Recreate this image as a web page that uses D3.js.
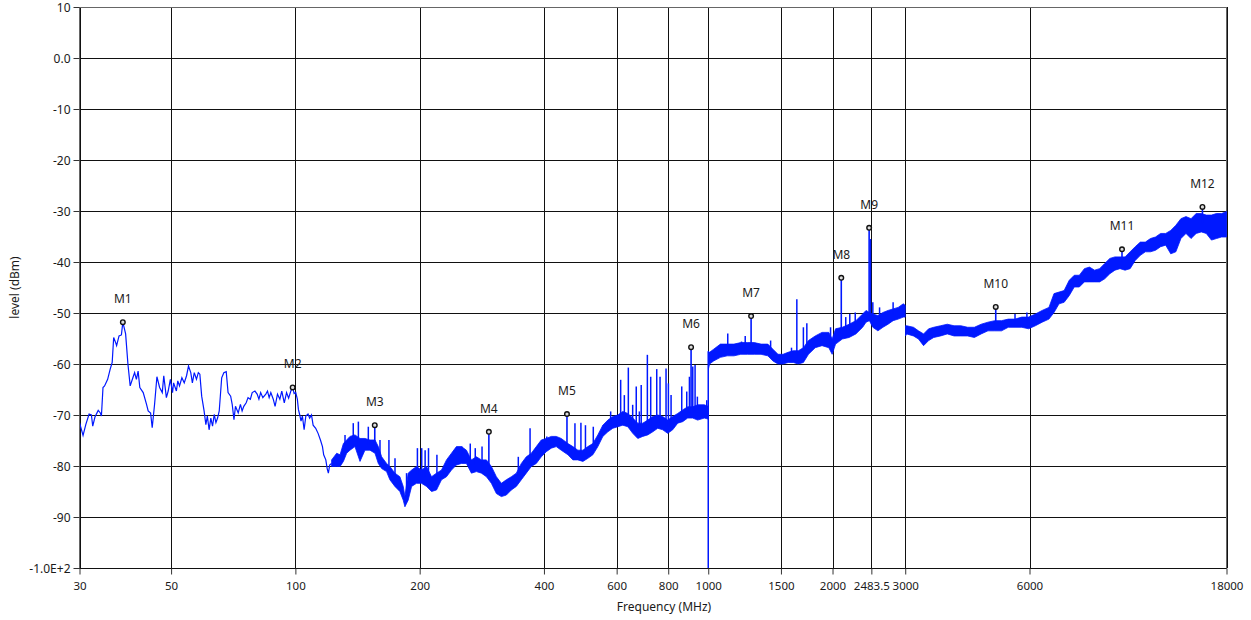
<!DOCTYPE html>
<html><head><meta charset="utf-8">
<script src="https://cdn.jsdelivr.net/npm/d3@7/dist/d3.min.js"></script>
<style>
body{margin:0;background:#fff;}
svg text{font-family:"Noto Sans","Open Sans",sans-serif;fill:#1a1a1a;}
</style>
</head><body>
<svg id="chart" width="1251" height="620"></svg>
<script>
// ---------------- data ----------------
const xTickValues = [30, 50, 100, 200, 400, 600, 800, 1000, 1500, 2000, 2483.5, 3000, 6000, 18000];
const xTickLabels = ["30", "50", "100", "200", "400", "600", "800", "1000", "1500", "2000", "2483.5", "3000", "6000", "18000"];
const yTickValues = [10, 0, -10, -20, -30, -40, -50, -60, -70, -80, -90, -100];
const yTickLabels = ["10", "0.0", "-10", "-20", "-30", "-40", "-50", "-60", "-70", "-80", "-90", "-1.0E+2"];

// thin trace 30 - 122 MHz : [MHz, dBm]
const lowTrace = [
[30.0,-71.5],[30.6,-74.0],[31.07,-71.9],[31.65,-69.8],[32.06,-70.0],[32.3,-72.2],[32.7,-70.4],[33.3,-69.1],[33.7,-69.6],[33.9,-70.2],
[34.2,-64.6],[34.5,-64.3],[35.1,-63.0],[35.6,-61.0],[36.0,-59.7],[36.3,-54.8],[36.7,-55.8],[36.9,-56.4],[37.4,-54.5],[37.9,-54.3],
[38.2,-51.8],[38.8,-54.1],[39.3,-60.0],[39.8,-64.3],[40.4,-62.7],[40.8,-61.7],[41.2,-63.0],[41.6,-61.4],[42.0,-64.6],[42.8,-65.6],
[43.6,-67.9],[44.0,-69.2],[44.6,-69.6],[45.0,-72.5],[45.6,-67.9],[46.2,-62.5],[46.9,-64.6],[47.6,-65.6],[48.0,-62.3],[48.7,-66.6],
[49.2,-65.3],[49.8,-63.0],[50.4,-65.6],[50.7,-63.7],[51.5,-65.3],[51.9,-63.3],[52.4,-64.3],[53.1,-62.7],[53.8,-63.7],[54.5,-62.3],
[55.1,-60.4],[55.8,-61.7],[56.3,-63.7],[56.9,-61.7],[57.6,-63.0],[58.2,-61.7],[58.7,-62.0],[59.3,-66.3],[60.1,-69.2],[60.7,-71.9],
[61.2,-70.2],[61.8,-72.9],[62.4,-70.6],[63.0,-72.2],[63.6,-69.9],[64.2,-71.5],[64.8,-70.6],[65.4,-69.2],[66.3,-62.7],[67.1,-61.7],
[68.0,-61.5],[68.7,-65.6],[69.7,-66.3],[70.3,-67.9],[71.0,-70.9],[71.6,-68.3],[72.7,-69.6],[73.6,-67.9],[74.3,-69.2],[75.0,-68.3],
[76.0,-67.6],[76.8,-66.6],[77.8,-66.9],[78.6,-65.6],[79.8,-65.3],[80.8,-65.9],[81.6,-66.9],[82.4,-65.6],[83.4,-66.6],[84.8,-65.9],
[85.6,-65.3],[86.4,-66.6],[87.2,-65.6],[88.4,-66.9],[89.3,-68.3],[90.5,-65.9],[91.7,-66.9],[92.7,-65.3],[94.0,-67.6],[95.2,-65.6],
[96.3,-66.7],[97.5,-65.3],[98.5,-64.6],[99.3,-65.8],[100.2,-65.6],[101.1,-66.9],[101.7,-68.9],[102.4,-69.9],[103.2,-71.2],[104.0,-70.2],
[105.0,-72.9],[106.0,-70.2],[107.3,-69.8],[108.3,-70.6],[109.4,-70.0],[110.4,-72.0],[112.0,-72.6],[113.5,-73.6],[115.0,-74.9],[116.3,-76.2],
[117.1,-77.8],[118.5,-78.8],[119.4,-80.5],[120.2,-81.4],[121.1,-79.8],[122.3,-79.5]
];

// dense trace envelopes : [MHz, upper dBm, lower dBm]
const bandA = [
[122.4,-78.8,-80.1],[125.9,-77.5,-80.1],[128.3,-77.8,-80.1],[130.7,-75.6,-79.1],[133.1,-74.9,-77.5],[135.6,-74.2,-76.9],[139.4,-73.9,-76.2],
[143.4,-74.6,-79.1],[147.4,-74.6,-76.9],[151.6,-74.9,-76.9],[155.9,-74.9,-77.5],[158.8,-76.2,-79.5],[161.8,-78.2,-80.5],[166.3,-79.5,-81.1],
[169.4,-80.1,-82.7],[174.2,-81.4,-84.0],[179.1,-82.1,-85.0],[182.5,-84.0,-86.7],[184.2,-86.0,-88.0],[187.6,-81.4,-86.7],[191.2,-80.8,-84.0],
[196.5,-80.1,-83.4],[202.1,-80.8,-83.4],[207.8,-80.1,-84.0],[213.7,-82.1,-85.0],[219.7,-81.4,-84.7],[225.9,-80.8,-82.7],[232.3,-78.8,-82.1],
[238.8,-77.5,-80.8],[245.5,-76.2,-79.8],[252.5,-76.2,-79.5],[259.6,-76.9,-79.5],[266.9,-78.8,-81.4],[274.5,-78.2,-81.1],[282.2,-78.8,-81.4],
[290.2,-78.8,-82.1],[298.4,-80.1,-83.4],[306.8,-82.1,-85.4],[315.4,-83.4,-86.0],[324.3,-82.7,-85.7],[333.5,-82.1,-84.7],[342.9,-81.4,-84.0],
[352.6,-79.5,-82.7],[362.5,-78.2,-81.4],[372.8,-77.5,-80.1],[383.3,-76.2,-79.5],[394.1,-74.9,-78.2],[405.2,-74.6,-77.2],[416.7,-74.2,-76.5],
[428.4,-74.2,-76.2],[440.5,-74.6,-76.9],[457.2,-75.6,-77.8],[470.1,-76.2,-78.8],[483.3,-76.9,-78.8],[497.0,-76.9,-79.1],[511.0,-76.2,-78.5],
[525.4,-75.6,-77.8],[540.3,-73.9,-76.2],[555.5,-72.0,-74.2],[571.2,-71.0,-73.3],[587.3,-70.3,-72.6],[603.9,-70.0,-72.3],[620.9,-69.3,-72.0],
[638.5,-69.7,-72.3],[656.5,-70.6,-73.6],[675.0,-71.6,-74.6],[694.0,-71.6,-74.2],[713.6,-71.0,-73.9],[733.8,-70.3,-73.3],[754.5,-70.0,-72.6],
[775.8,-70.3,-72.9],[797.7,-71.0,-73.6],[820.2,-70.3,-72.9],[843.4,-69.7,-71.6],[867.2,-69.0,-71.3],[891.6,-68.4,-70.6],[916.8,-68.4,-70.6],
[942.7,-68.0,-71.0],[978.6,-68.0,-70.6],[999.0,-68.3,-70.8]
];
const bandB = [
[1001,-57.5,-61.0],[1007.6,-57.7,-60.0],[1030.7,-57.1,-59.4],[1070.3,-56.1,-58.7],[1111.7,-56.1,-58.4],[1154.4,-56.1,-58.4],[1198.8,-55.8,-58.1],
[1245,-55.8,-58.1],[1292.8,-55.8,-58.1],[1342.5,-56.1,-58.1],[1394.2,-56.1,-58.4],[1434.3,-57.1,-59.4],[1475.5,-58.1,-60.0],[1517.9,-58.1,-60.0],
[1561.5,-57.7,-59.7],[1606.4,-57.4,-59.7],[1652.6,-57.4,-60.0],[1700.1,-56.8,-59.7],[1748.9,-55.4,-58.1],[1816.3,-54.5,-56.8],[1886.2,-53.8,-56.4],
[1958.8,-53.8,-56.8],[1996.1,-55.1,-58.1],[2034.3,-53.1,-56.1],[2112.4,-52.8,-55.1],[2193.8,-52.2,-54.8],[2278.2,-51.5,-54.1],[2365.9,-50.2,-52.8],
[2411,-49.5,-51.8],[2456.9,-49.9,-51.5],[2503.8,-50.2,-52.8],[2575.7,-50.5,-53.5],[2649.6,-49.9,-52.8],[2725.8,-49.5,-52.2],[2804,-49.2,-51.5],
[2884.6,-48.9,-51.2],[2967.5,-48.2,-50.8],[3000,-48.5,-50.8]
];
const bandC = [
[3005,-52.5,-54.5],[3024,-52.5,-54.1],[3141,-52.8,-54.5],[3230,-53.5,-55.1],[3323,-54.1,-56.4],[3419,-53.1,-55.4],[3517,-52.8,-54.8],
[3653,-52.5,-54.5],[3793,-52.2,-54.1],[3939,-52.5,-54.5],[4091,-52.5,-54.5],[4249,-52.8,-54.5],[4412,-52.8,-54.8],[4582,-52.2,-54.1],
[4759,-51.8,-53.5],[4942,-51.5,-53.5],[5133,-51.5,-53.5],[5330,-51.2,-52.8],[5534,-51.2,-52.8],[5748,-50.8,-52.8],[5969,-50.8,-53.1],
[6199,-50.2,-52.5],[6438,-49.5,-51.8],[6686,-48.9,-51.2],[6878,-46.2,-49.9],[7075,-45.9,-48.2],[7278,-45.6,-47.9],[7486,-43.6,-46.6],
[7701,-42.6,-44.9],[7922,-42.6,-44.9],[8149,-41.3,-43.9],[8383,-41.0,-43.9],[8624,-41.6,-43.9],[8871,-41.3,-43.9],[9126,-40.3,-43.3],
[9391,-39.3,-42.3],[9661,-39.0,-41.6],[9938,-39.0,-41.3],[10223,-39.0,-41.6],[10517,-38.0,-41.3],[10819,-37.0,-39.7],[11130,-36.1,-38.7],
[11449,-36.1,-38.0],[11778,-35.4,-38.0],[12116,-35.1,-37.7],[12464,-34.4,-37.0],[12823,-34.4,-36.7],[13190,-33.8,-38.4],[13570,-32.8,-38.0],
[13960,-31.5,-35.4],[14360,-31.1,-34.4],[14770,-31.5,-35.4],[15200,-30.5,-34.4],[15640,-30.5,-34.1],[16080,-30.8,-34.4],[16550,-30.8,-35.7],
[17020,-30.5,-35.4],[17510,-30.5,-35.1],[18000,-30.1,-35.1]
];

// narrow spurious peaks : [MHz, dBm]
const spikes = [
[131.9,-73.9],[138.1,-71.6],[142.1,-71.3],[150.2,-72.3],[160.3,-74.9],[168.5,-74.9],[174.3,-78.5],[185.9,-81.4],[197.5,-76.5],[202.3,-76.5],
[206.2,-76.9],[210.1,-76.5],[220.2,-77.8],[253.1,-76.2],[265.2,-75.6],[272.7,-76.5],[283.2,-76.2],[346.7,-78.2],[370.2,-72.6],[406.4,-74.2],
[475.5,-71.6],[491.6,-71.5],[504.2,-72.0],[526.7,-72.3],[557.0,-72.0],[580.3,-69.3],
[613.6,-63.1],[626.3,-66.1],[640.4,-60.7],[656.1,-68.0],[669.3,-64.4],[681.0,-69.3],[688.1,-64.1],[712.1,-58.2],[725.5,-62.5],[750.3,-61.0],
[764.3,-62.5],[790.3,-60.9],[800.7,-63.8],[812.8,-66.1],[862.6,-64.4],[887.0,-65.4],[900.4,-62.5],[917.3,-60.5],[929.2,-60.2],[941.2,-66.4],[991.6,-67.1],
[1115,-54.0],[1204,-55.6],[1229,-54.5],[1416,-55.4],[1591,-56.8],[1639,-47.3],[1700,-52.8],[1733,-52.0],[1978,-52.8],[2153,-50.8],[2202,-50.2],
[2270,-49.9],[2471,-35.5],[2504,-47.9],[2600,-48.9],[2804,-47.9],[5534,-50.2],[5913,-49.9]
];
// sweep-band edge at 1000 MHz
const dropFreq = [1000, 1000];
const dropLevel = [-100, -57.5];

const markerNames = ["M1","M2","M3","M4","M5","M6","M7","M8","M9","M10","M11","M12"];
const markerFreq  = [38.2, 98.5, 155.7, 294.2, 454.8, 908.7, 1270, 2100, 2453, 4970, 10050, 15740];
const markerLevel = [-51.8, -64.6, -72.0, -73.3, -69.8, -56.7, -50.6, -43.1, -33.3, -48.8, -37.5, -29.2];

// ---------------- chart ----------------
const plotLeft = 79.5, plotRight = 1226.5, plotTop = 7, plotBottom = 568;
const traceColor = "#0018ff";

const svg = d3.select("#chart");
const x = d3.scaleLog().domain([30, 18000]).range([plotLeft, plotRight]);
const y = d3.scaleLinear().domain([-100, 10]).range([plotBottom, plotTop]);

// grid
const grid = svg.append("g");
grid.selectAll("line.v").data(xTickValues).enter().append("line")
  .attr("x1", d => Math.round(x(d)) + 0.5).attr("x2", d => Math.round(x(d)) + 0.5)
  .attr("y1", plotTop).attr("y2", plotBottom)
  .attr("stroke", "#111").attr("stroke-width", 1);
grid.selectAll("line.h").data(yTickValues).enter().append("line")
  .attr("y1", d => Math.round(y(d)) + 0.5).attr("y2", d => Math.round(y(d)) + 0.5)
  .attr("x1", plotLeft).attr("x2", plotRight)
  .attr("stroke", "#111").attr("stroke-width", 1);

// plot frame
svg.append("rect").attr("x", plotLeft).attr("y", plotTop + 0.5).attr("width", plotRight - plotLeft).attr("height", plotBottom - plotTop)
  .attr("fill", "none").attr("stroke", "#666").attr("stroke-width", 1);

const trace = svg.append("g");

// thin low-frequency trace
trace.append("path").datum(lowTrace)
  .attr("d", d3.line().x(d => x(d[0])).y(d => y(d[1])))
  .attr("fill", "none").attr("stroke", traceColor).attr("stroke-width", 1.2).attr("stroke-linejoin", "miter");

// dense bands
const area = d3.area().x(d => x(d[0])).y0(d => y(d[2])).y1(d => y(d[1]));
[bandA, bandB, bandC].forEach(b => {
  trace.append("path").datum(b).attr("d", area)
    .attr("fill", traceColor).attr("stroke", traceColor).attr("stroke-width", 0.8).attr("stroke-linejoin", "miter");
});

// base level helper: interpolate the band centre (log frequency) at f
const bis = d3.bisector(d => d[0]).left;
function baseAt(f) {
  for (const b of [bandA, bandB, bandC]) {
    if (f >= b[0][0] && f <= b[b.length - 1][0]) {
      let i = Math.max(1, bis(b, f));
      const a = b[i - 1], c = b[i];
      const t = (Math.log(f) - Math.log(a[0])) / (Math.log(c[0]) - Math.log(a[0]));
      const ma = (a[1] + a[2]) / 2, mc = (c[1] + c[2]) / 2;
      return ma + t * (mc - ma);
    }
  }
  let i = Math.min(lowTrace.length - 1, Math.max(1, bis(lowTrace, f)));
  const a = lowTrace[i - 1], c = lowTrace[i];
  const t = (Math.log(f) - Math.log(a[0])) / (Math.log(c[0]) - Math.log(a[0]));
  return a[1] + t * (c[1] - a[1]);
}

// spikes
trace.selectAll("line.spike").data(spikes).enter().append("line")
  .attr("x1", d => x(d[0])).attr("x2", d => x(d[0]))
  .attr("y1", d => y(baseAt(d[0]))).attr("y2", d => y(d[1]))
  .attr("stroke", traceColor).attr("stroke-width", 1.5);

// drop at band edge
trace.append("line")
  .attr("x1", x(dropFreq[0])).attr("x2", x(dropFreq[1]))
  .attr("y1", y(dropLevel[0])).attr("y2", y(dropLevel[1]))
  .attr("stroke", traceColor).attr("stroke-width", 1.5);

// markers
const markers = markerNames.map((n, i) => ({ n, f: markerFreq[i], v: markerLevel[i] }));
const mg = svg.append("g");
mg.selectAll("line.ms").data(markers.filter(m => m.f > 120)).enter().append("line")
  .attr("x1", d => x(d.f)).attr("x2", d => x(d.f))
  .attr("y1", d => y(baseAt(d.f))).attr("y2", d => y(d.v))
  .attr("stroke", traceColor).attr("stroke-width", 1.6);
mg.selectAll("circle").data(markers).enter().append("circle")
  .attr("cx", d => x(d.f)).attr("cy", d => y(d.v)).attr("r", 2.3)
  .attr("fill", "#ddd").attr("stroke", "#111").attr("stroke-width", 1.4);
mg.selectAll("text").data(markers).enter().append("text")
  .attr("x", d => x(d.f)).attr("y", d => y(d.v) - 19)
  .attr("text-anchor", "middle").attr("font-size", 12).text(d => d.n);

// axes
const xAxis = d3.axisBottom(x).tickValues(xTickValues).tickFormat((d, i) => xTickLabels[i]).tickSize(6).tickPadding(7);
const gx = svg.append("g").attr("transform", `translate(0,${plotBottom + 0.5})`).call(xAxis);
gx.select(".domain").attr("stroke", "#111").attr("d", `M${plotLeft},0H${plotRight}`);
gx.selectAll(".tick line").attr("stroke", "#333");
gx.selectAll("text").attr("font-size", 11.5).attr("fill", "#1a1a1a").attr("font-family", null);

const yAxis = d3.axisLeft(y).tickValues(yTickValues).tickFormat((d, i) => yTickLabels[i]).tickSize(6).tickPadding(3);
const gy = svg.append("g").attr("transform", `translate(${plotLeft},0)`).call(yAxis);
gy.select(".domain").attr("stroke", "#666").attr("d", `M0,${plotTop}V${plotBottom}`);
gy.selectAll(".tick line").attr("stroke", "#333");
gy.selectAll("text").attr("font-size", 12).attr("fill", "#1a1a1a").attr("font-family", null).attr("dy", "0.4em");

// titles
svg.append("text").attr("x", 664).attr("y", 611).attr("text-anchor", "middle").attr("font-size", 12).text("Frequency (MHz)");
svg.append("text").attr("transform", `translate(19,${(plotTop + plotBottom) / 2}) rotate(-90)`)
  .attr("text-anchor", "middle").attr("font-size", 12).text("level (dBm)");
</script>
</body></html>
